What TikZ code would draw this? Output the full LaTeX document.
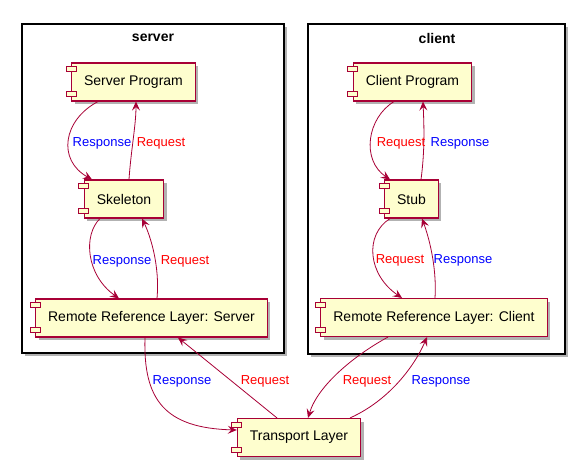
\documentclass[tikz,border=0pt]{standalone}
\usepackage{fontspec}
\setmainfont{Liberation Sans}
\usetikzlibrary{arrows.meta,shadows}
\definecolor{plumred}{HTML}{A80036}
\definecolor{compfill}{HTML}{FEFECE}
\definecolor{reqred}{HTML}{FF0000}
\definecolor{respblue}{HTML}{0000FF}

\begin{document}
\begin{tikzpicture}[x=1pt, y=-1pt,
  pkg/.style={draw=black, line width=1.5pt, fill=white, drop shadow={shadow xshift=3pt, shadow yshift=-3pt, fill=black, opacity=.3}},
  pkgtitle/.style={font=\fontsize{14}{16}\selectfont\bfseries, inner sep=0pt},
  comp/.style={draw=plumred, line width=1.1pt, fill=compfill, minimum height=38pt, inner xsep=12.5pt,
    font=\fontsize{14}{16}\selectfont, drop shadow={shadow xshift=3pt, shadow yshift=-3pt, fill=black, opacity=.3}},
  icon/.style={draw=plumred, line width=0.9pt, fill=compfill},
  req/.style={text=reqred, font=\fontsize{13}{15}\selectfont, inner sep=0pt},
  resp/.style={text=respblue, font=\fontsize{13}{15}\selectfont, inner sep=0pt},
  flow/.style={draw=plumred, line width=0.8pt, -{Stealth[length=9pt, width=8pt, inset=3.5pt]}}]
\useasboundingbox (0,0) rectangle (575,468);
% packages
\node[pkg, minimum width=262pt, minimum height=329pt] (server) at (153,188.5) {};
\node[pkgtitle] (servertitle) at (153,38) {server};
\node[pkg, minimum width=257pt, minimum height=330pt] (client) at (436.5,189) {};
\node[pkgtitle] (clienttitle) at (437,38) {client};
% components
\node[comp] (sprog) at (133.5,82) {Server Program};
\node[comp] (skel) at (124,199) {Skeleton};
\node[comp] (rrls) at (151.5,318) {Remote Reference Layer: Server};
\node[comp] (cprog) at (412.5,82) {Client Program};
\node[comp] (stub) at (411.5,199) {Stub};
\node[comp] (rrlc) at (434,317.5) {Remote Reference Layer: Client};
\node[comp] (trans) at (299,437.5) {Transport Layer};
\foreach \n in {sprog,skel,rrls,cprog,stub,rrlc,trans} {
  \draw[icon] ([shift={(-5pt,-4pt)}]\n.north west) rectangle ++(10,5);
  \draw[icon] ([shift={(-5pt,5pt)}]\n.south west) rectangle ++(10,-5);
}
% server side
\draw[flow] ([xshift=-35.5pt]sprog.south) .. controls (63,120) and (57,160) .. ([xshift=-32pt]skel.north);
\draw[flow] ([xshift=5pt]skel.north) .. controls (131,150) and (136,125) .. ([xshift=2.5pt]sprog.south);
\draw[flow] ([xshift=-24pt]skel.south) .. controls (83,235) and (86,275) .. ([xshift=-32.5pt]rrls.north);
\draw[flow] ([xshift=5.5pt]rrls.north) .. controls (160,265) and (150,235) .. ([xshift=18pt]skel.south);
% client side
\draw[flow] ([xshift=-18.5pt]cprog.south) .. controls (367,118) and (361,160) .. ([xshift=-21.5pt]stub.north);
\draw[flow] ([xshift=9.5pt]stub.north) .. controls (425,150) and (424,125) .. ([xshift=10.5pt]cprog.south);
\draw[flow] ([xshift=-21.5pt]stub.south) .. controls (364,235) and (368,275) .. ([xshift=-32pt]rrlc.north);
\draw[flow] ([xshift=1pt]rrlc.north) .. controls (437,265) and (428,235) .. ([xshift=10.5pt]stub.south);
% transport
\draw[flow] ([xshift=-6.5pt]rrls.south) .. controls (143,400) and (165,428) .. ([yshift=7.5pt]trans.west);
\draw[flow] ([xshift=-22pt]trans.north) -- ([xshift=26.5pt]rrls.south);
\draw[flow] ([xshift=-46pt]rrlc.south) .. controls (355,355) and (318,385) .. ([xshift=9pt]trans.north);
\draw[flow] ([xshift=51pt]trans.north) .. controls (390,400) and (415,365) .. ([xshift=-7pt]rrlc.south);
% labels
\node[resp] (lresp1) at (102,143) {Response};
\node[req] (lreq1) at (161,143) {Request};
\node[resp] (lresp2) at (122,261) {Response};
\node[req] (lreq2) at (185,261) {Request};
\node[req] (lreq3) at (401,143) {Request};
\node[resp] (lresp3) at (460,143) {Response};
\node[req] (lreq4) at (400,260) {Request};
\node[resp] (lresp4) at (463,260) {Response};
\node[resp] (lresp5) at (182,381) {Response};
\node[req] (lreq5) at (265,381) {Request};
\node[req] (lreq6) at (367,381) {Request};
\node[resp] (lresp6) at (441,381) {Response};
\end{tikzpicture}
\end{document}
